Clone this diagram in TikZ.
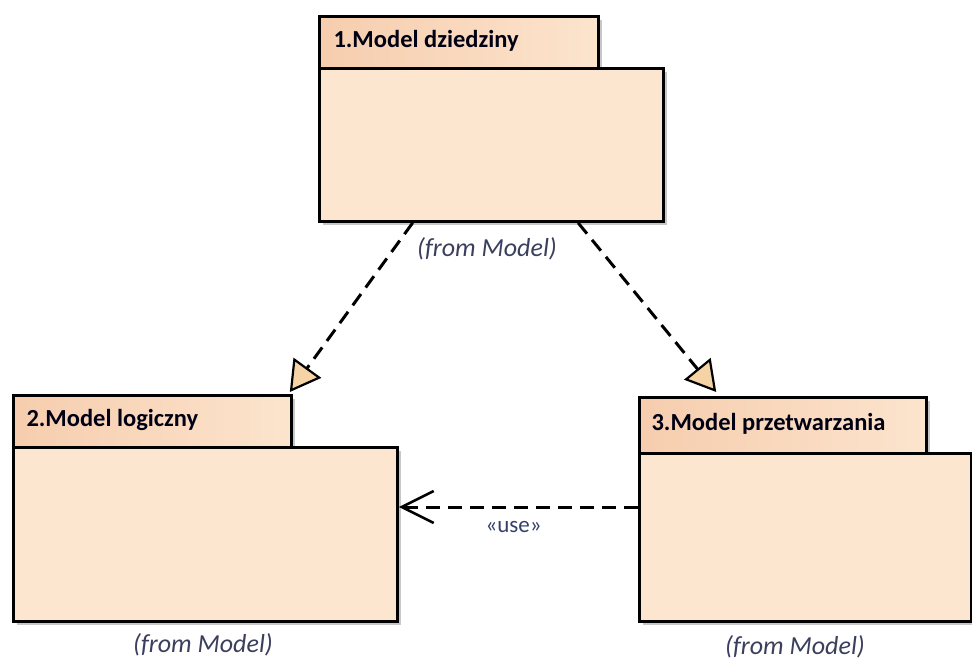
\documentclass[tikz,border=0pt]{standalone}
\usepackage{fontspec}
\setmainfont{Carlito}
\usetikzlibrary{arrows.meta,calc,shadows}
\definecolor{bodyfill}{HTML}{FDE6CF}
\definecolor{tabL}{HTML}{F6CDAE}
\definecolor{tabR}{HTML}{FCE4CD}
\definecolor{tipfill}{HTML}{F5D3A4}
\definecolor{fromcol}{HTML}{3A3F5C}
\definecolor{usecol}{HTML}{34406A}
\begin{document}
\begin{tikzpicture}[x=1pt,y=-1pt,
  pkgbody/.style={draw=black, line width=2.8pt, fill=bodyfill, anchor=north west, inner sep=0pt,
     drop shadow={shadow xshift=4pt, shadow yshift=-4pt, fill=black!22, opacity=1}},
  pkgtab/.style={draw=black, line width=2.8pt, left color=tabL, right color=tabR, anchor=north west, inner sep=0pt,
     drop shadow={shadow xshift=4pt, shadow yshift=-4pt, fill=black!22, opacity=1}},
  tablabel/.style={anchor=west, font=\fontsize{24.5}{28}\selectfont\bfseries, text=black!92!blue},
  fromlabel/.style={font=\fontsize{26}{30}\selectfont\itshape, text=fromcol, inner sep=1pt},
  realize/.style={line width=3pt, dash pattern=on 14pt off 8pt,
     -{Triangle[length=30pt,width=34pt,fill=tipfill,line width=2.2pt]}},
  usedep/.style={line width=3pt, dash pattern=on 14pt off 8pt,
     -{Straight Barb[length=32pt,width=32pt,line width=2.6pt]}}
]
\useasboundingbox (0,0) rectangle (972,662);

% Package 1
\node[pkgtab, minimum width=279pt, minimum height=52pt] (t1) at (318,15) {};
\node[pkgbody, minimum width=344pt, minimum height=153pt] (b1) at (318,67) {};
\node[tablabel] (l1) at (330,41) {1.Model dziedziny};
\node[fromlabel] (f1) at (487,249) {(from Model)};

% Package 2
\node[pkgtab, minimum width=278pt, minimum height=52pt] (t2) at (12,394) {};
\node[pkgbody, minimum width=384pt, minimum height=174pt] (b2) at (12,446) {};
\node[tablabel] (l2) at (23,420) {2.Model logiczny};
\node[fromlabel] (f2) at (203,645) {(from Model)};

% Package 3
\node[pkgtab, minimum width=287pt, minimum height=56pt] (t3) at (638,396) {};
\node[pkgbody, minimum width=332pt, minimum height=168pt] (b3) at (638,452) {};
\node[tablabel] (l3) at (648,424) {3.Model przetwarzania};
\node[fromlabel] (f3) at (795,647) {(from Model)};

% Connectors
\draw[realize] ($(b1.south west)!0.273!(b1.south east)$) -- ($(t2.north east)+(-3,-2)$);
\draw[realize] ($(b1.south west)!0.75!(b1.south east)$) -- ($(t3.north west)!0.27!(t3.north east)+(0,-4)$);
\draw[usedep] (b3.west |- 0,507) -- (b2.east |- 0,507) node[pos=0.52, below=10pt, font=\fontsize{23}{26}\selectfont, text=usecol] (u) {«use»};
\end{tikzpicture}
\end{document}
